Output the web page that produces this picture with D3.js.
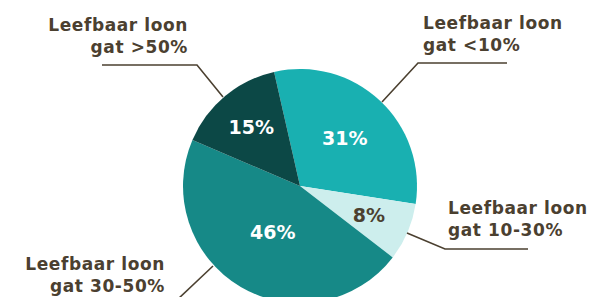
<!DOCTYPE html>
<html lang="nl">
<head>
  <meta charset="utf-8"/>
  <title>Leefbaar loon gat</title>
  <script src="https://cdn.jsdelivr.net/npm/d3@7/dist/d3.min.js"></script>
  <style>
    html,body { margin:0; padding:0; background:#fff; overflow:hidden; }
    svg { display:block; }
    .lbl { font-family:"DejaVu Sans", sans-serif; font-weight:bold; font-size:17px; letter-spacing:0.6px; fill:#4b4030; }
    .pct { font-family:"DejaVu Sans", sans-serif; font-weight:bold; font-size:19px; }
  </style>
</head>
<body>
<svg width="589" height="297"></svg>
<script>
// data (clockwise, starting near the top)
const categories = ["Leefbaar loon gat <10%", "Leefbaar loon gat 10-30%", "Leefbaar loon gat 30-50%", "Leefbaar loon gat >50%"];
const values     = [31, 8, 46, 15];
const colors     = ["#19b0b1", "#cdeeed", "#168987", "#0c4846"];
const pctColors  = ["#ffffff", "#4b4030", "#ffffff", "#ffffff"];
const labelLines = [["Leefbaar loon", "gat <10%"], ["Leefbaar loon", "gat 10-30%"], ["Leefbaar loon", "gat 30-50%"], ["Leefbaar loon", "gat >50%"]];

const W = 589, H = 297;
const cx = 300, cy = 186, R = 117;
const startA = -12.8 * Math.PI / 180;

const svg = d3.select("svg");
const g = svg.append("g").attr("transform", `translate(${cx},${cy})`);

const pie = d3.pie().sort(null).value(d => d)
  .startAngle(startA).endAngle(startA + 2 * Math.PI);
const arcs = pie(values);
const arc = d3.arc().innerRadius(0).outerRadius(R);

g.selectAll("path.slice")
  .data(arcs)
  .join("path")
    .attr("class", "slice")
    .attr("d", arc)
    .attr("fill", (d, i) => colors[i]);

// percentage labels inside slices
const pctR = [0.56, 0.64, 0.46, 0.65];
g.selectAll("text.pct")
  .data(arcs)
  .join("text")
    .attr("class", "pct")
    .attr("text-anchor", "middle")
    .attr("dy", "0.36em")
    .attr("fill", (d, i) => pctColors[i])
    .attr("transform", (d, i) => {
      const c = d3.arc().innerRadius(R * pctR[i]).outerRadius(R * pctR[i]).centroid(d);
      return `translate(${c})`;
    })
    .text(d => d.value + "%");

// leader lines + labels (layout per slice)
const callouts = [
  // <10%
  { pts: [[382, 102], [418, 63], [507, 63]], x: 423, y: 29, anchor: "start" },
  // 10-30%
  { pts: [[407, 233], [445, 249], [528, 249]], x: 448, y: 214, anchor: "start" },
  // 30-50%
  { pts: [[213, 266], [177, 300]], x: 165, y: 270, anchor: "end" },
  // >50%
  { pts: [[223, 97], [197, 65], [102, 65]], x: 188, y: 31, anchor: "end" }
];
const line = d3.line();
svg.selectAll("path.leader")
  .data(callouts)
  .join("path")
    .attr("class", "leader")
    .attr("d", d => line(d.pts))
    .attr("fill", "none")
    .attr("stroke", "#4b4030")
    .attr("stroke-width", 1.6);

const lbl = svg.selectAll("text.lbl")
  .data(callouts)
  .join("text")
    .attr("class", "lbl")
    .attr("text-anchor", d => d.anchor)
    .attr("x", d => d.x)
    .attr("y", d => d.y);
lbl.selectAll("tspan")
  .data((d, i) => labelLines[i].map(t => ({ t, x: d.x })))
  .join("tspan")
    .attr("x", d => d.x)
    .attr("dy", (d, j) => j === 0 ? 0 : 21.5)
    .text(d => d.t);
</script>
</body>
</html>
